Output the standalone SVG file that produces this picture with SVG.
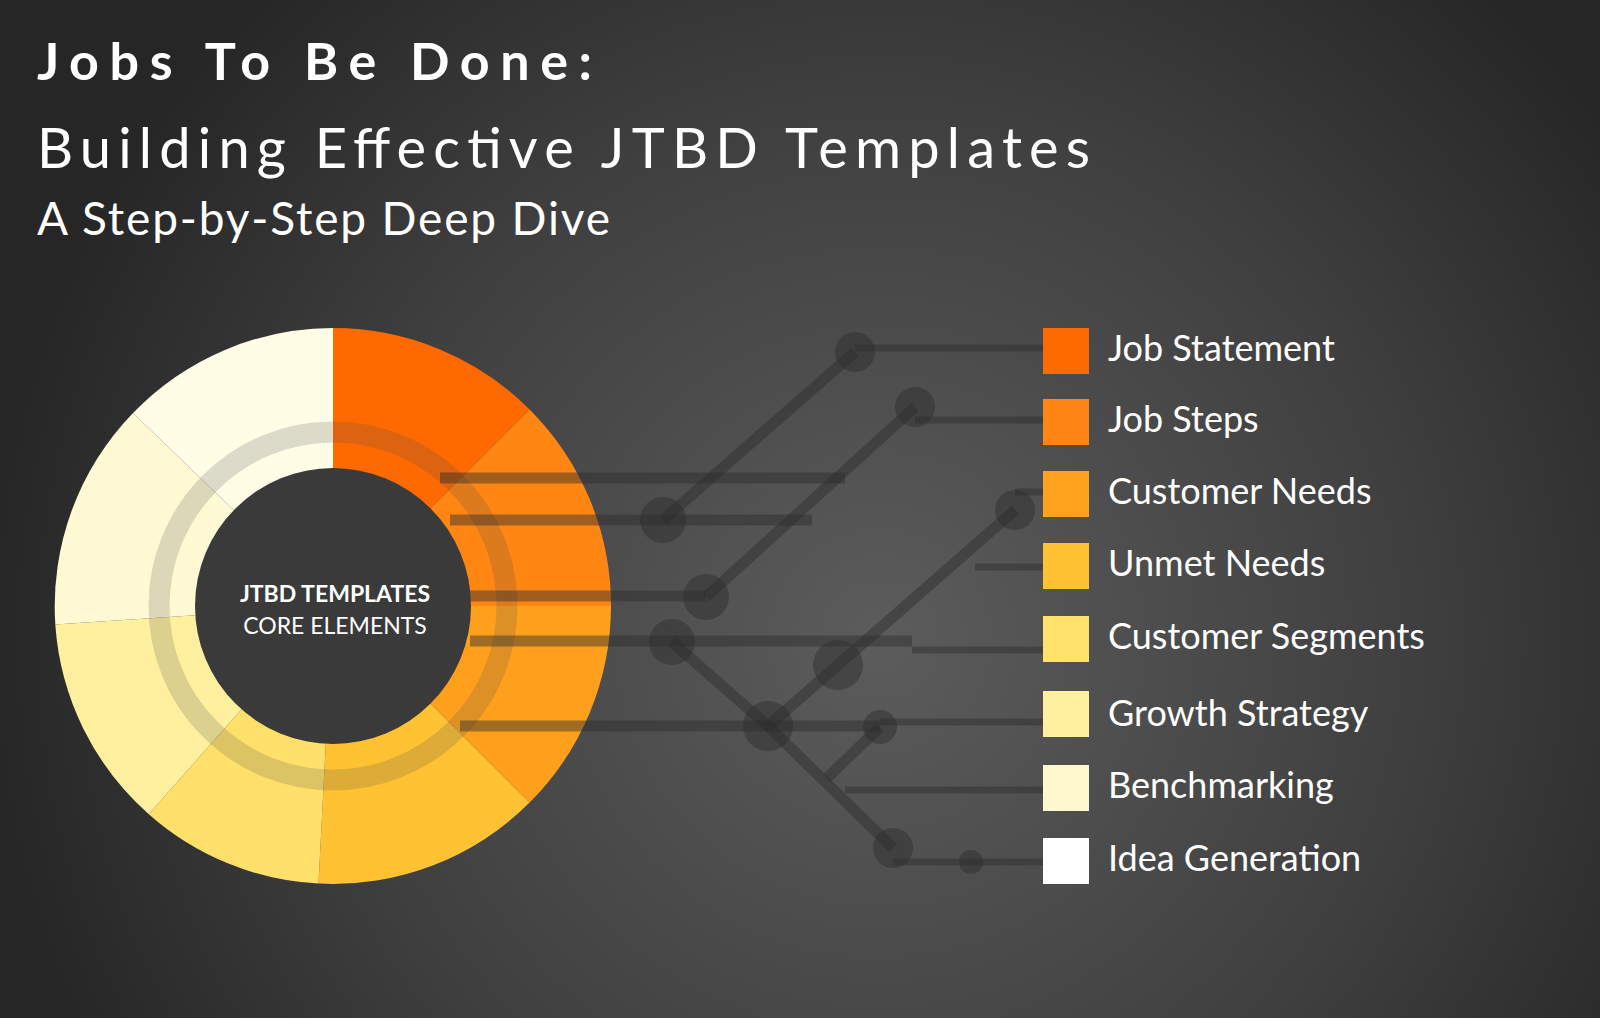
<svg xmlns="http://www.w3.org/2000/svg" width="1600" height="1018" viewBox="0 0 1600 1018">
<defs>
<radialGradient id="bg" cx="880" cy="640" r="900" gradientUnits="userSpaceOnUse">
<stop offset="0" stop-color="#5c5c5c"/><stop offset="0.6" stop-color="#3f3f3f"/><stop offset="1" stop-color="#262626"/>
</radialGradient>
<style>
.t{font-family:Lato,"Open Sans","Liberation Sans",sans-serif;fill:#fff}
.lg{font-family:Lato,"Open Sans","Liberation Sans",sans-serif;fill:#fff;font-size:36px}
.thick{stroke:#2c2c2c;stroke-opacity:0.45;stroke-width:11;fill:none}
.thin{stroke:#2c2c2c;stroke-opacity:0.45;stroke-width:7;fill:none}
.dot{fill:#2c2c2c;fill-opacity:0.45}
</style>
</defs>
<rect width="1600" height="1018" fill="url(#bg)"/>
<g id="title">
<text class="t" x="37" y="80" font-size="52" font-weight="bold" textLength="555">Jobs To Be Done:</text>
<text class="t" x="37" y="168" font-size="56" textLength="1053">Building Effective JTBD Templates</text>
<text class="t" x="37" y="235" font-size="46" textLength="573">A Step-by-Step Deep Dive</text>
</g>
<g id="donut">
<path d="M333,606 L333,328 A278,278 0 0 1 529.6,409.4 Z" fill="#FF6A00"/>
<path d="M333,606 L529.6,409.4 A278,278 0 0 1 611,606 Z" fill="#FF8612"/>
<path d="M333,606 L611,606 A278,278 0 0 1 529.6,802.6 Z" fill="#FFA01C"/>
<path d="M333,606 L529.6,802.6 A278,278 0 0 1 318.5,883.6 Z" fill="#FFC233"/>
<path d="M333,606 L318.5,883.6 A278,278 0 0 1 148.8,814.2 Z" fill="#FFE06A"/>
<path d="M333,606 L148.8,814.2 A278,278 0 0 1 55.3,624.6 Z" fill="#FFF09F"/>
<path d="M333,606 L55.3,624.6 A278,278 0 0 1 133.0,413.0 Z" fill="#FFF9D4"/>
<path d="M333,606 L133.0,413.0 A278,278 0 0 1 333,328 Z" fill="#FFFDE6"/>
<circle cx="333" cy="606" r="174" fill="none" stroke="#505050" stroke-opacity="0.2" stroke-width="21"/>
</g>
<g id="connectors">
<line class="thick" x1="440" y1="478" x2="845" y2="478"/>
<line class="thick" x1="450" y1="520" x2="812" y2="520"/>
<line class="thick" x1="470" y1="596" x2="706" y2="596"/>
<line class="thick" x1="470" y1="641" x2="912" y2="641"/>
<line class="thick" x1="460" y1="726" x2="880" y2="726"/>
<line class="thick" x1="663" y1="520" x2="855" y2="352"/>
<line class="thick" x1="706" y1="597" x2="915" y2="407"/>
<polyline class="thick" points="672,642 768,726 893,848"/>
<polyline class="thick" points="768,726 838,665 1015,510"/>
<line class="thick" x1="827" y1="778" x2="880" y2="727"/>
<line class="thin" x1="855" y1="348" x2="1043" y2="348"/>
<line class="thin" x1="915" y1="420" x2="1043" y2="420"/>
<line class="thin" x1="1015" y1="492" x2="1043" y2="492"/>
<line class="thin" x1="975" y1="567" x2="1043" y2="567"/>
<line class="thin" x1="912" y1="650" x2="1043" y2="650"/>
<line class="thin" x1="880" y1="722" x2="1043" y2="722"/>
<line class="thin" x1="845" y1="790" x2="1043" y2="790"/>
<line class="thin" x1="893" y1="862" x2="1043" y2="862"/>
<circle class="dot" cx="855" cy="352" r="20"/>
<circle class="dot" cx="915" cy="407" r="20"/>
<circle class="dot" cx="663" cy="520" r="23"/>
<circle class="dot" cx="706" cy="597" r="23"/>
<circle class="dot" cx="672" cy="642" r="23"/>
<circle class="dot" cx="838" cy="665" r="25"/>
<circle class="dot" cx="1015" cy="510" r="20"/>
<circle class="dot" cx="768" cy="726" r="25"/>
<circle class="dot" cx="880" cy="727" r="17"/>
<circle class="dot" cx="893" cy="848" r="20"/>
<circle class="dot" cx="971" cy="862" r="12"/>
</g>
<g id="center">
<circle cx="333" cy="606" r="138" fill="#3a3a3a"/>
<text class="t" x="335" y="602" font-size="23" font-weight="bold" text-anchor="middle">JTBD TEMPLATES</text>
<text class="t" x="335" y="634" font-size="23" text-anchor="middle">CORE ELEMENTS</text>
</g>
<g id="legend-job-statement"><rect x="1043" y="328" width="46" height="46" fill="#FF6A00"/><text class="lg" x="1108" y="361">Job Statement</text></g>
<g id="legend-job-steps"><rect x="1043" y="399" width="46" height="46" fill="#FF8515"/><text class="lg" x="1108" y="432">Job Steps</text></g>
<g id="legend-customer-needs"><rect x="1043" y="471" width="46" height="46" fill="#FFA31F"/><text class="lg" x="1108" y="504">Customer Needs</text></g>
<g id="legend-unmet-needs"><rect x="1043" y="543" width="46" height="46" fill="#FFC233"/><text class="lg" x="1108" y="576">Unmet Needs</text></g>
<g id="legend-customer-segments"><rect x="1043" y="616" width="46" height="46" fill="#FFE16B"/><text class="lg" x="1108" y="649">Customer Segments</text></g>
<g id="legend-growth-strategy"><rect x="1043" y="691" width="46" height="46" fill="#FFF09F"/><text class="lg" x="1108" y="726">Growth Strategy</text></g>
<g id="legend-benchmarking"><rect x="1043" y="765" width="46" height="46" fill="#FFF8CF"/><text class="lg" x="1108" y="798">Benchmarking</text></g>
<g id="legend-idea-generation"><rect x="1043" y="838" width="46" height="46" fill="#FFFFFF"/><text class="lg" x="1108" y="871">Idea Generation</text></g>
</svg>
